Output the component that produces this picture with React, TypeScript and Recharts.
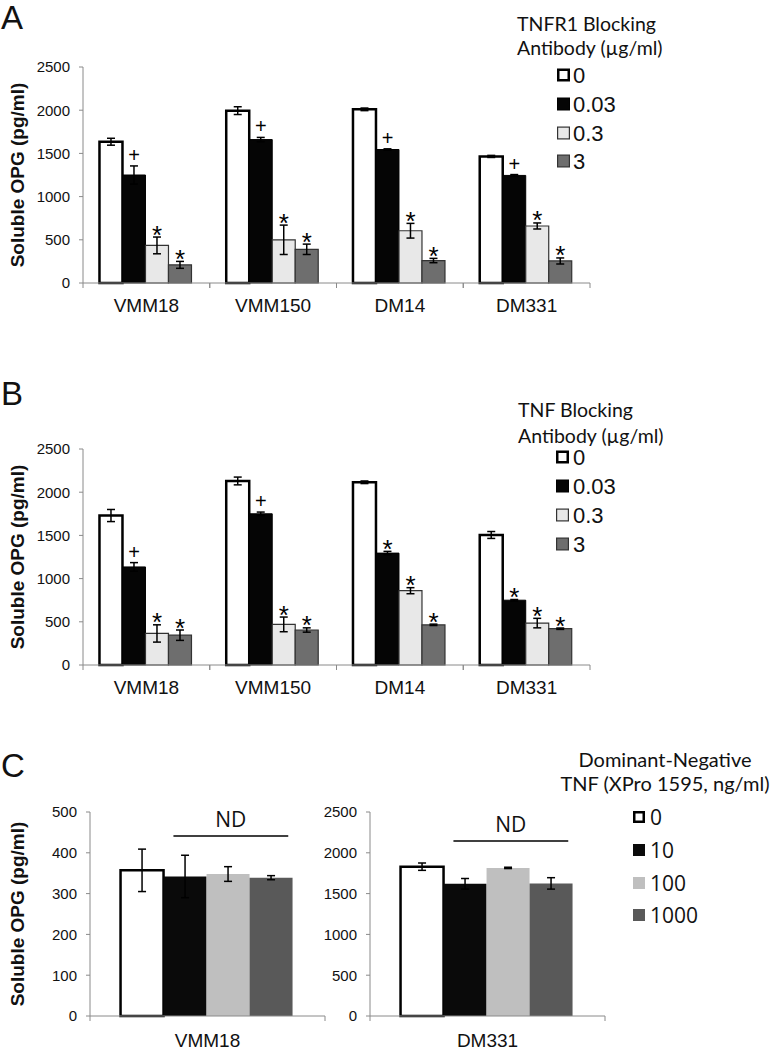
import React from 'react';
import { BarChart, Bar, XAxis, YAxis, ErrorBar, LabelList, Legend } from 'recharts';

// ---------- Data ----------
const cellLinesAB = ['VMM18', 'VMM150', 'DM14', 'DM331'];
const doseLabelsAB = ['0', '0.03', '0.3', '3'];
const yTicksAB = [0, 500, 1000, 1500, 2000, 2500];

// Panel A: TNFR1 blocking antibody
const tnfr1Dose0 = [1635, 1995, 2010, 1465];
const tnfr1Dose0Err = [40, 45, 15, 12];
const tnfr1Dose003 = [1250, 1660, 1545, 1245];
const tnfr1Dose003Err = [105, 25, 8, 10];
const tnfr1Dose03 = [435, 500, 605, 660];
const tnfr1Dose03Err = [97, 170, 85, 35];
const tnfr1Dose3 = [210, 390, 260, 255];
const tnfr1Dose3Err = [40, 60, 25, 35];
const tnfr1Marks003 = ['+', '+', '+', '+'];
const tnfr1Marks03 = ['*', '*', '*', '*'];
const tnfr1Marks3 = ['*', '*', '*', '*'];

// Panel B: TNF blocking antibody
const tnfDose0 = [1730, 2130, 2115, 1505];
const tnfDose0Err = [70, 45, 15, 40];
const tnfDose003 = [1135, 1750, 1295, 750];
const tnfDose003Err = [50, 20, 20, 8];
const tnfDose03 = [365, 470, 860, 485];
const tnfDose03Err = [100, 85, 35, 55];
const tnfDose3 = [345, 405, 465, 420];
const tnfDose3Err = [60, 25, 8, 8];
const tnfMarks003 = ['+', '+', '*', '*'];
const tnfMarks03 = ['*', '*', '*', '*'];
const tnfMarks3 = ['*', '*', '*', '*'];

// Panel C: dominant-negative TNF (XPro 1595)
const xproLabels = ['0', '10', '100', '1000'];
const vmm18Values = [357, 342, 348, 339];
const vmm18Errors = [52, 52, 18, 5];
const dm331Values = [1830, 1620, 1815, 1625];
const dm331Errors = [45, 65, 8, 70];
const yTicksVMM18 = [0, 100, 200, 300, 400, 500];
const yTicksDM331 = [0, 500, 1000, 1500, 2000, 2500];
const ndLevelVMM18 = 441;
const ndLevelDM331 = 2145;

// ---------- Styles ----------
const FONT = '"Liberation Sans", Arial, Helvetica, sans-serif';
const FONT2 = '"Open Sans", "Noto Sans", sans-serif';
const FONT3 = 'Lato, "Open Sans", sans-serif';
const AXIS = '#8a8a8a';

const abStyles = [
  { fill: '#ffffff', stroke: '#000000', strokeWidth: 2.5 },
  { fill: '#050505', stroke: '#000000', strokeWidth: 1 },
  { fill: '#e8e8e8', stroke: '#333333', strokeWidth: 1.2 },
  { fill: '#6e6e6e', stroke: '#333333', strokeWidth: 1.2 },
];
const cStyles = [
  { fill: '#ffffff', stroke: '#000000', strokeWidth: 2.5 },
  { fill: '#0a0a0a', stroke: 'none', strokeWidth: 0 },
  { fill: '#bfbfbf', stroke: 'none', strokeWidth: 0 },
  { fill: '#595959', stroke: 'none', strokeWidth: 0 },
];

const buildRows = (cats: string[], series: number[][], errs: number[][]) =>
  cats.map((c, i) => {
    const row: any = { name: c };
    series.forEach((s, k) => {
      row['d' + k] = s[i];
      row['e' + k] = errs[k][i];
    });
    return row;
  });

const rowsA = buildRows(
  cellLinesAB,
  [tnfr1Dose0, tnfr1Dose003, tnfr1Dose03, tnfr1Dose3],
  [tnfr1Dose0Err, tnfr1Dose003Err, tnfr1Dose03Err, tnfr1Dose3Err]
);
const rowsB = buildRows(
  cellLinesAB,
  [tnfDose0, tnfDose003, tnfDose03, tnfDose3],
  [tnfDose0Err, tnfDose003Err, tnfDose03Err, tnfDose3Err]
);
const rowsCLeft = [
  {
    name: 'VMM18',
    d0: vmm18Values[0], d1: vmm18Values[1], d2: vmm18Values[2], d3: vmm18Values[3],
    e0: vmm18Errors[0], e1: vmm18Errors[1], e2: vmm18Errors[2], e3: vmm18Errors[3],
  },
];
const rowsCRight = [
  {
    name: 'DM331',
    d0: dm331Values[0], d1: dm331Values[1], d2: dm331Values[2], d3: dm331Values[3],
    e0: dm331Errors[0], e1: dm331Errors[1], e2: dm331Errors[2], e3: dm331Errors[3],
  },
];

// ---------- Helpers ----------
const getBox = (p: any) => (p.viewBox && typeof p.viewBox.x === 'number' ? p.viewBox : p);

const makeMarkContent = (marks: string[], errs: number[], values: number[]) => (p: any) => {
  const vb = getBox(p);
  let idx = typeof p.index === 'number' ? p.index : values.indexOf(Number(p.value));
  if (idx < 0) return null;
  const mark = marks[idx];
  if (!mark) return null;
  const v = values[idx];
  const ppu = vb.height / v;
  const errTop = vb.y - errs[idx] * ppu;
  const cx = vb.x + vb.width / 2;
  if (mark === '+') {
    return (
      <text x={cx} y={errTop - 4} textAnchor="middle" fontSize={20} fontFamily={FONT} fill="#000" stroke="none">
        +
      </text>
    );
  }
  return (
    <text x={cx} y={errTop + 6.5} textAnchor="middle" fontSize={26} fontFamily={FONT} fill="#000" stroke="none">
      *
    </text>
  );
};

const makeNDContent = (level: number, values: number[]) => (p: any) => {
  const vb = getBox(p);
  const v = values[1];
  const ppu = vb.height / v;
  const base = vb.y + vb.height;
  const ly = base - level * ppu;
  const x1 = vb.x + vb.width * 0.23;
  const x2 = vb.x + vb.width * 2.9;
  return (
    <g>
      <line x1={x1} y1={ly} x2={x2} y2={ly} stroke="#000" strokeWidth={1.5} />
      <text x={(x1 + x2) / 2} y={ly - 9} textAnchor="middle" fontSize={21} fontFamily={FONT2} fill="#111" stroke="none">
        ND
      </text>
    </g>
  );
};

const makeCatTick = (half: number, labelDy: number) => (props: any) => {
  const { x, y, payload } = props;
  return (
    <g>
      <line x1={x - half} y1={y} x2={x - half} y2={y + 5} stroke={AXIS} />
      <line x1={x + half} y1={y} x2={x + half} y2={y + 5} stroke={AXIS} />
      <text x={x} y={y + labelDy} textAnchor="middle" fontSize={19} fontFamily={FONT} fill="#111">
        {payload.value}
      </text>
    </g>
  );
};

const AxisTitle = (p: any) => {
  const vb = p.viewBox || { y: 0, height: 0 };
  const cx = 17;
  const cy = vb.y + vb.height / 2;
  return (
    <text
      x={cx}
      y={cy}
      transform={`rotate(-90 ${cx} ${cy})`}
      textAnchor="middle"
      dominantBaseline="central"
      fontSize={19}
      fontWeight="bold"
      fontFamily={FONT}
      fill="#111"
    >
      Soluble OPG (pg/ml)
    </text>
  );
};

type LegendCfg = {
  titleLines: string[];
  titleX: number;
  titleAnchor: 'start' | 'middle';
  titleBaselines: number[];
  titleSize: number;
  labels: string[];
  styles: { fill: string; stroke: string; strokeWidth: number }[];
  squareX: number;
  squareSize: number;
  itemCenters: number[];
  textX: number;
  itemFont: string;
  itemSize: number;
  width: number;
  height: number;
};

const LegendSvg = ({ cfg }: { cfg: LegendCfg }) => (
  <svg width={cfg.width} height={cfg.height} style={{ display: 'block', overflow: 'visible' }}>
    {cfg.titleLines.map((t, i) => (
      <text
        key={'t' + i}
        x={cfg.titleX}
        y={cfg.titleBaselines[i]}
        textAnchor={cfg.titleAnchor}
        fontSize={cfg.titleSize}
        fontFamily={FONT3}
        fill="#111"
      >
        {t}
      </text>
    ))}
    {cfg.labels.map((l, i) => {
      const st = cfg.styles[i];
      const sw = st.stroke === 'none' ? 0 : st.strokeWidth;
      const c = cfg.itemCenters[i];
      const s = cfg.squareSize;
      return (
        <g key={'i' + i}>
          <rect
            x={cfg.squareX + sw / 2}
            y={c - s / 2 + sw / 2}
            width={s - sw}
            height={s - sw}
            fill={st.fill}
            stroke={st.stroke}
            strokeWidth={sw}
          />
          <text
            x={cfg.textX}
            y={c + cfg.itemSize * 0.36}
            fontSize={cfg.itemSize}
            fontFamily={cfg.itemFont}
            fill="#111"
          >
            {l}
          </text>
        </g>
      );
    })}
  </svg>
);

const legendA: LegendCfg = {
  titleLines: ['TNFR1 Blocking', 'Antibody (\u00B5g/ml)'],
  titleX: 17,
  titleAnchor: 'start',
  titleBaselines: [31, 55],
  titleSize: 19.5,
  labels: doseLabelsAB,
  styles: abStyles,
  squareX: 57,
  squareSize: 13,
  itemCenters: [75, 104, 133, 161],
  textX: 73,
  itemFont: FONT,
  itemSize: 22,
  width: 274,
  height: 180,
};
const legendB: LegendCfg = {
  ...legendA,
  titleLines: ['TNF Blocking', 'Antibody (\u00B5g/ml)'],
  titleX: 18,
  titleBaselines: [35, 61],
  squareX: 56,
  itemCenters: [75, 104, 133, 162],
};
const legendC: LegendCfg = {
  titleLines: ['Dominant-Negative', 'TNF (XPro 1595, ng/ml)'],
  titleX: 125,
  titleAnchor: 'middle',
  titleBaselines: [27, 51],
  titleSize: 20,
  labels: xproLabels,
  styles: cStyles,
  squareX: 93,
  squareSize: 12,
  itemCenters: [77, 110, 143, 175],
  textX: 110,
  itemFont: FONT2,
  itemSize: 21,
  width: 234,
  height: 200,
};

// ---------- Panels ----------
const DosePanel = ({
  rows,
  marks,
  errs,
  values,
  legend,
}: {
  rows: any[];
  marks: string[][];
  errs: number[][];
  values: number[][];
  legend: LegendCfg;
}) => {
  const plotWidth = 774 - 184 - 23 - 60;
  const half = plotWidth / (2 * rows.length);
  return (
    <BarChart
      width={774}
      height={340}
      data={rows}
      margin={{ top: 67, right: 184, bottom: 17, left: 23 }}
      barCategoryGap="13%"
      barGap={0}
    >
      <XAxis
        dataKey="name"
        height={40}
        interval={0}
        tickLine={false}
        tickSize={0}
        tickMargin={0}
        axisLine={{ stroke: AXIS }}
        tick={makeCatTick(half, 29)}
      />
      <YAxis
        width={60}
        domain={[0, 2500]}
        ticks={yTicksAB}
        interval={0}
        tickSize={4}
        tickMargin={9}
        axisLine={{ stroke: AXIS }}
        tickLine={{ stroke: AXIS }}
        tick={{ fontSize: 15, fill: '#111', fontFamily: FONT }}
        label={{ content: AxisTitle }}
      />
      <Legend
        verticalAlign="middle"
        align="center"
        layout="horizontal"
        wrapperStyle={{ left: 500, top: 0, width: legend.width, height: legend.height }}
        content={() => <LegendSvg cfg={legend} />}
      />
      {[0, 1, 2, 3].map((k) => (
        <Bar
          key={k}
          dataKey={'d' + k}
          name={legend.labels[k]}
          fill={abStyles[k].fill}
          stroke={abStyles[k].stroke}
          strokeWidth={abStyles[k].strokeWidth}
          isAnimationActive={false}
        >
          <ErrorBar
            dataKey={'e' + k}
            direction="y"
            width={4}
            stroke="#000"
            strokeWidth={1.5}
            isAnimationActive={false}
          />
          {k > 0 && (
            <LabelList dataKey={'d' + k} content={makeMarkContent(marks[k], errs[k], values[k])} />
          )}
        </Bar>
      ))}
    </BarChart>
  );
};

const XproPanel = ({
  rows,
  values,
  ticks,
  domainMax,
  ndLevel,
  left,
  width,
  marginLeft,
  marginRight,
  withLegend,
}: {
  rows: any[];
  values: number[];
  ticks: number[];
  domainMax: number;
  ndLevel: number;
  left: number;
  width: number;
  marginLeft: number;
  marginRight: number;
  withLegend: boolean;
}) => {
  const plotWidth = width - marginLeft - marginRight - 60;
  const half = plotWidth / 2;
  return (
    <div style={{ position: 'absolute', left, top: 740 }}>
      <BarChart
        width={width}
        height={310}
        data={rows}
        margin={{ top: 72, right: marginRight, bottom: 0, left: marginLeft }}
        barCategoryGap="13%"
        barGap={0}
      >
        <XAxis
          dataKey="name"
          height={34}
          interval={0}
          tickLine={false}
          tickSize={0}
          tickMargin={0}
          axisLine={{ stroke: AXIS }}
          tick={makeCatTick(half, 31)}
        />
        <YAxis
          width={60}
          domain={[0, domainMax]}
          ticks={ticks}
          interval={0}
          tickSize={4}
          tickMargin={9}
          axisLine={{ stroke: AXIS }}
          tickLine={{ stroke: AXIS }}
          tick={{ fontSize: 15, fill: '#111', fontFamily: FONT }}
          label={withLegend ? undefined : { content: AxisTitle }}
        />
        {withLegend && (
          <Legend
            verticalAlign="middle"
            align="center"
            layout="horizontal"
            wrapperStyle={{ left: 240, top: 0, width: legendC.width, height: legendC.height }}
            content={() => <LegendSvg cfg={legendC} />}
          />
        )}
        {[0, 1, 2, 3].map((k) => (
          <Bar
            key={k}
            dataKey={'d' + k}
            name={xproLabels[k]}
            fill={cStyles[k].fill}
            stroke={cStyles[k].stroke}
            strokeWidth={cStyles[k].strokeWidth}
            isAnimationActive={false}
          >
            <ErrorBar
              dataKey={'e' + k}
              direction="y"
              width={4}
              stroke="#000"
              strokeWidth={1.5}
              isAnimationActive={false}
            />
            {k === 1 && <LabelList dataKey="d1" content={makeNDContent(ndLevel, values)} />}
          </Bar>
        ))}
      </BarChart>
    </div>
  );
};

const letterStyle: React.CSSProperties = {
  position: 'absolute',
  left: 1,
  fontFamily: FONT,
  fontSize: 33,
  lineHeight: '33px',
  color: '#111',
};

export default function App() {
  return (
    <div style={{ position: 'absolute', left: 0, top: 0, width: 774, height: 1050, background: '#fff', overflow: 'hidden' }}>
      <div style={{ ...letterStyle, top: 1 }}>A</div>
      <div style={{ ...letterStyle, top: 377 }}>B</div>
      <div style={{ ...letterStyle, top: 749 }}>C</div>

      <div style={{ position: 'absolute', left: 0, top: 0 }}>
        <DosePanel
          rows={rowsA}
          marks={[[], tnfr1Marks003, tnfr1Marks03, tnfr1Marks3]}
          errs={[tnfr1Dose0Err, tnfr1Dose003Err, tnfr1Dose03Err, tnfr1Dose3Err]}
          values={[tnfr1Dose0, tnfr1Dose003, tnfr1Dose03, tnfr1Dose3]}
          legend={legendA}
        />
      </div>
      <div style={{ position: 'absolute', left: 0, top: 382 }}>
        <DosePanel
          rows={rowsB}
          marks={[[], tnfMarks003, tnfMarks03, tnfMarks3]}
          errs={[tnfDose0Err, tnfDose003Err, tnfDose03Err, tnfDose3Err]}
          values={[tnfDose0, tnfDose003, tnfDose03, tnfDose3]}
          legend={legendB}
        />
      </div>

      <XproPanel
        rows={rowsCLeft}
        values={vmm18Values}
        ticks={yTicksVMM18}
        domainMax={500}
        ndLevel={ndLevelVMM18}
        left={0}
        width={340}
        marginLeft={30}
        marginRight={15}
        withLegend={false}
      />
      <XproPanel
        rows={rowsCRight}
        values={dm331Values}
        ticks={yTicksDM331}
        domainMax={2500}
        ndLevel={ndLevelDM331}
        left={300}
        width={474}
        marginLeft={10}
        marginRight={169}
        withLegend={true}
      />
    </div>
  );
}
